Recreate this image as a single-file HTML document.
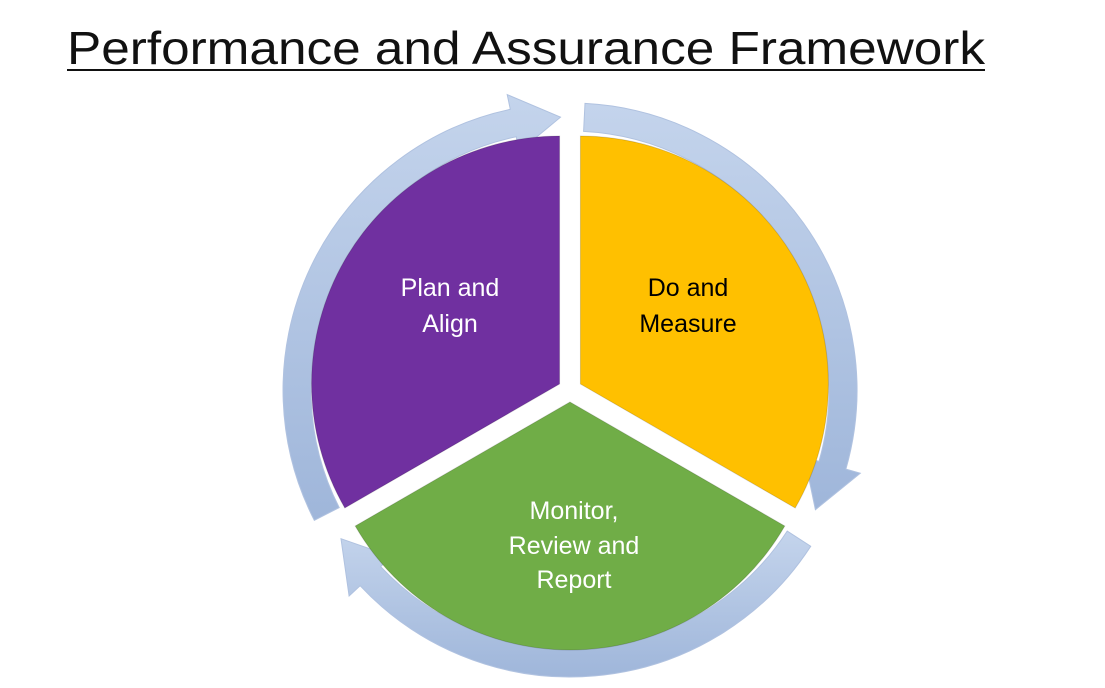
<!DOCTYPE html>
<html><head><meta charset="utf-8">
<style>html,body{margin:0;padding:0;background:#fff;}svg{display:block}</style>
</head><body>
<svg id="s" width="1105" height="688" viewBox="0 0 1105 688" xmlns="http://www.w3.org/2000/svg">
<defs>
<linearGradient id="rg" x1="0" y1="0" x2="0" y2="1">
<stop offset="0" stop-color="#c4d4ec"/><stop offset="1" stop-color="#9fb6da"/>
</linearGradient>
</defs>
<text x="67" y="64" font-family="'Liberation Sans',sans-serif" font-size="46" fill="#111" textLength="918" lengthAdjust="spacingAndGlyphs">Performance and Assurance Framework</text>
<rect x="67" y="69" width="918" height="2" fill="#111"/>
<g id="ring"></g>
<g id="pie"></g>
<g font-family="'Liberation Sans',sans-serif" font-size="25" text-anchor="middle">
<text x="450" y="296" fill="#fff">Plan and</text>
<text x="450" y="332" fill="#fff">Align</text>
<text x="688" y="296" fill="#000">Do and</text>
<text x="688" y="332" fill="#000">Measure</text>
<text x="574" y="519" fill="#fff">Monitor,</text>
<text x="574" y="554" fill="#fff">Review and</text>
<text x="574" y="588" fill="#fff">Report</text>
</g>
</svg>
<script>
var NS="http://www.w3.org/2000/svg",cx=570,cy=390;
function P(x,y,r,a){a=a*Math.PI/180;return [x+r*Math.cos(a),y+r*Math.sin(a)];}
function f(p){return p[0].toFixed(1)+","+p[1].toFixed(1);}
function add(g,d,fill,extra){var e=document.createElementNS(NS,"path");e.setAttribute("d",d);e.setAttribute("fill",fill);if(extra)for(var k in extra)e.setAttribute(k,extra[k]);document.getElementById(g).appendChild(e);}
var R=248,off=12;
[[150,270,"#7030A0"],[270,390,"#FFC000"],[30,150,"#70AD47"]].forEach(function(s){
 var b=(s[0]+s[1])/2,o=P(cx,cy,off,b),x=o[0],y=o[1];
 var d="M"+x.toFixed(1)+","+y.toFixed(1)+" L"+f(P(x,y,R,s[0]))+" A"+R+","+R+" 0 0 1 "+f(P(x,y,R,s[1]))+" Z";
 add("pie",d,s[2],{stroke:"rgba(0,0,0,0.15)","stroke-width":"1"});
});
var r1=259,r2=287,h1=244,h2=302,rm=273,hl=10;
[[153,268],[273,386],[33,147]].forEach(function(a){
 var s=a[0],e=a[1],b=e-hl;
 var big=(b-s)>180?1:0;
 var d="M"+f(P(cx,cy,r2,s))+" A"+r2+","+r2+" 0 "+big+" 1 "+f(P(cx,cy,r2,b))+
 " L"+f(P(cx,cy,h2,b))+" L"+f(P(cx,cy,rm,e))+" L"+f(P(cx,cy,h1,b))+" L"+f(P(cx,cy,r1,b))+
 " A"+r1+","+r1+" 0 "+big+" 0 "+f(P(cx,cy,r1,s))+" Z";
 add("ring",d,"url(#rg)",{stroke:"#b0c2e0","stroke-width":"1"});
});
</script>
</body></html>
